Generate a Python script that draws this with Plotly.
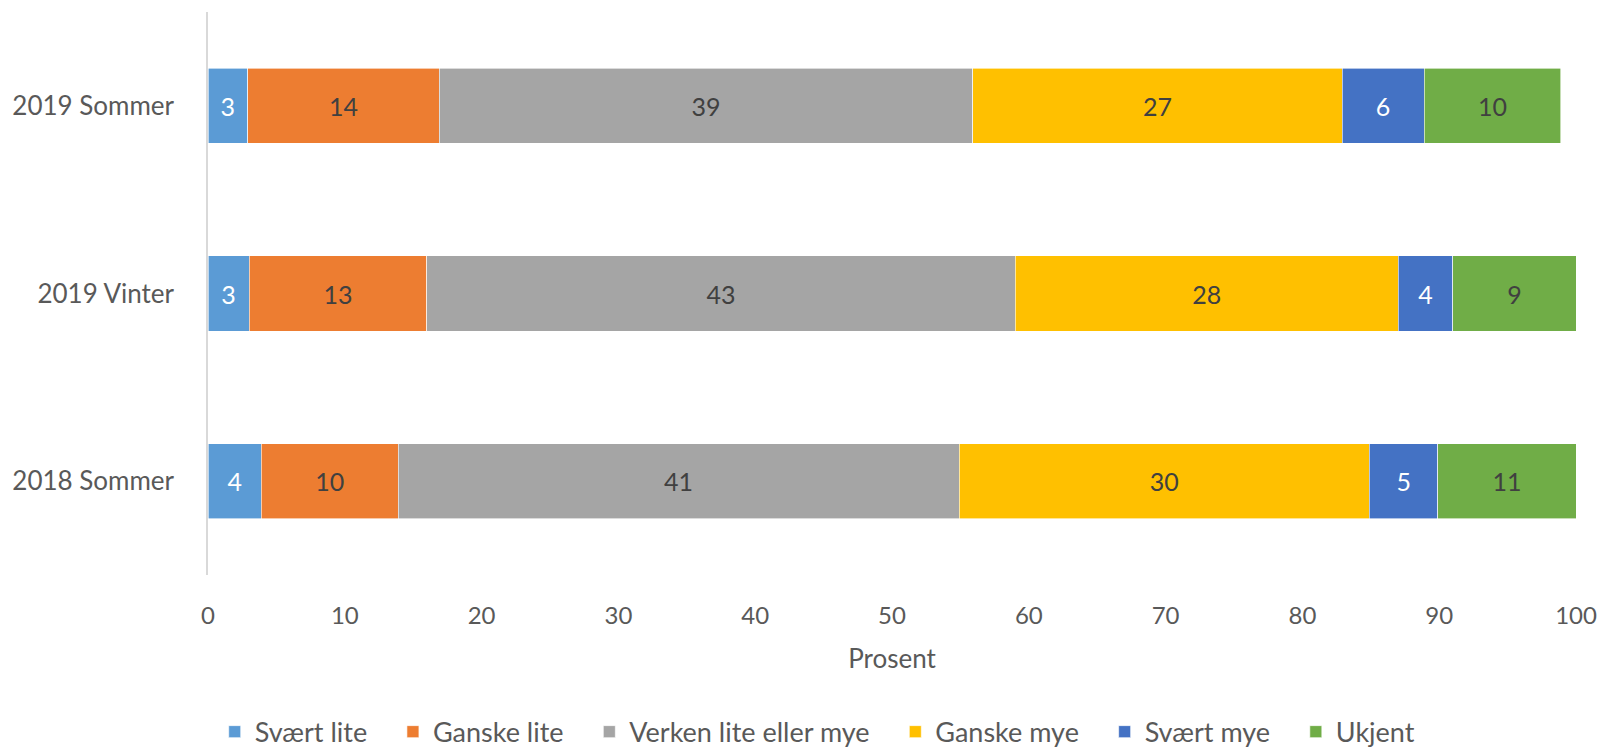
import plotly.graph_objects as go

# Kategorier (nederst -> øverst)
perioder = ["2018 Sommer", "2019 Vinter", "2019 Sommer"]

serier = ["Svært lite", "Ganske lite", "Verken lite eller mye",
          "Ganske mye", "Svært mye", "Ukjent"]

# Verdier per serie, samme rekkefølge som perioder
svaert_lite = [3.9, 3, 2.9]
ganske_lite = [10, 13, 14]
verken = [41, 43, 39]
ganske_mye = [30, 28, 27]
svaert_mye = [5, 4, 6]
ukjent = [10.1, 9, 10]

# Etiketter som vist i figuren
etiketter = [
    [4, 3, 3],
    [10, 13, 14],
    [41, 43, 39],
    [30, 28, 27],
    [5, 4, 6],
    [11, 9, 10],
]

farger = ["#5B9BD5", "#ED7D31", "#A5A5A5", "#FFC000", "#4472C4", "#70AD47"]
tekstfarger = ["white", "#404040", "#404040", "#404040", "white", "#404040"]

verdier = [svaert_lite, ganske_lite, verken, ganske_mye, svaert_mye, ukjent]

fig = go.Figure()
for navn, v, tekst, farge, tf in zip(serier, verdier, etiketter, farger, tekstfarger):
    fig.add_trace(go.Bar(
        y=perioder,
        x=v,
        name=navn + "\u00a0\u00a0\u00a0",  # litt ekstra luft i legenden
        orientation="h",
        marker=dict(color=farge, line=dict(color="white", width=0.6)),
        text=[str(t) for t in tekst],
        textposition="inside",
        insidetextanchor="middle",
        textfont=dict(color=tf, size=25),
        width=0.4,
    ))

fig.update_layout(
    barmode="stack",
    width=1599,
    height=748,
    plot_bgcolor="white",
    paper_bgcolor="white",
    font=dict(family="Lato, sans-serif", size=26, color="#595959"),
    margin=dict(l=208, r=23, t=12, b=173, autoexpand=False),
    showlegend=True,
    legend=dict(
        orientation="h",
        x=0.453, xanchor="center",
        y=-0.279, yanchor="middle",
        font=dict(size=27, color="#595959"),
        traceorder="normal",
        itemwidth=30,
    ),
    uniformtext=dict(mode="show", minsize=10),
)

fig.update_xaxes(
    range=[0, 100],
    dtick=10,
    showgrid=False,
    zeroline=False,
    showline=False,
    automargin=False,
    ticks="outside",
    ticklen=19,
    tickcolor="rgba(0,0,0,0)",
    title=dict(text="Prosent", standoff=22, font=dict(size=26, color="#595959")),
    tickfont=dict(size=24, color="#595959"),
)

fig.update_yaxes(
    showgrid=False,
    zeroline=False,
    showline=True,
    automargin=False,
    linecolor="#D9D9D9",
    linewidth=1.5,
    ticks="outside",
    ticklen=27,
    tickcolor="rgba(0,0,0,0)",
    tickfont=dict(size=26, color="#595959"),
)

# fjern standardmargen i body så figuren fyller vinduet uten rullefelt
fig.write_html("out.html",
               config={"displayModeBar": False},
               post_script="document.body.style.margin='0';document.body.style.overflow='hidden';")
